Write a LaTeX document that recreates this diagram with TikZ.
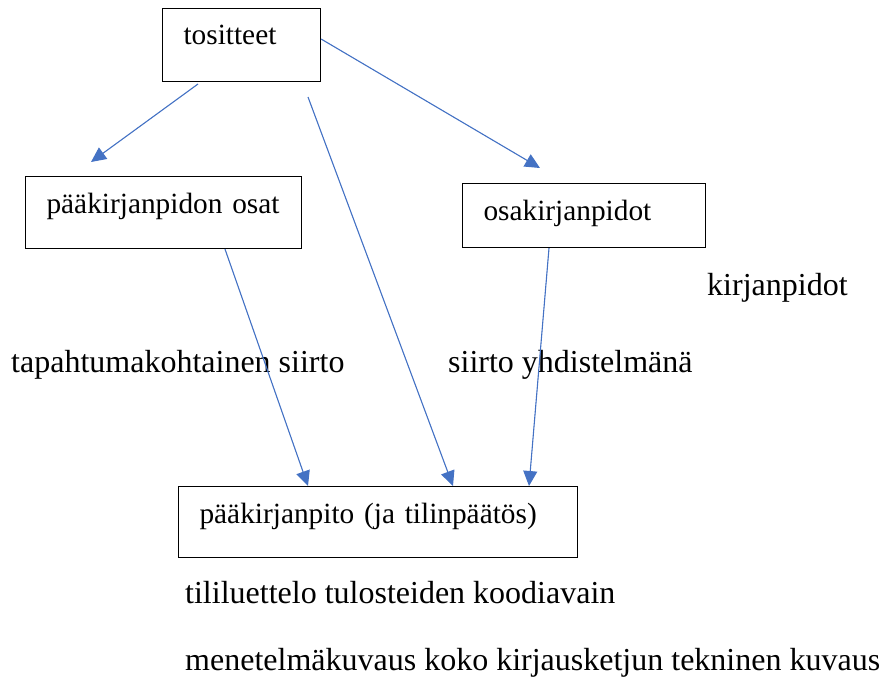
\documentclass[tikz,border=0pt]{standalone}
\usepackage{fontspec}
\setmainfont{Liberation Serif}
\usepackage{xcolor}
\usetikzlibrary{arrows.meta}
\usetikzlibrary{calc}
\definecolor{linkblue}{HTML}{4472C4}

\begin{document}
\begin{tikzpicture}[x=1pt, y=-1pt, >={Triangle[length=15pt,width=14pt]},
    every node/.style={font=\fontsize{32}{38}\selectfont, inner sep=0pt},
    box/.style n args={3}{draw, line width=1.1pt, anchor=north west, align=left,
        font=\fontsize{29.33}{35}\selectfont,
        inner xsep=21pt, text width=#1, text height=#2, text depth=#3},
    note/.style={anchor=base west},
    link/.style={->, draw=linkblue, fill=linkblue, line width=1.1pt}]
\useasboundingbox (0,0) rectangle (881,686);

% laatikot
\node[box={116pt}{36pt}{37pt}] (tos) at (162,8) {tositteet};
\node[box={234pt}{37pt}{35pt}] (osat) at (25,176) {pääkirjanpidon osat};
\node[box={201pt}{37pt}{27pt}] (osak) at (462,183) {osakirjanpidot};
\node[box={357pt}{37pt}{34pt}] (pk) at (178,486) {pääkirjanpito (ja tilinpäätös)};

% vapaat tekstit
\node[note] (kirj) at (707,295) {kirjanpidot};
\node[note] (tapsiirto) at (11,372) {tapahtumakohtainen siirto};
\node[note] (yhdsiirto) at (448,372) {siirto yhdistelmänä};
\node[note] (tililuet) at (185,603) {tililuettelo tulosteiden koodiavain};
\node[note] (menkuv) at (185,670) {menetelmäkuvaus koko kirjausketjun tekninen kuvaus};

% nuolten vapaat päät
\coordinate (tosA) at (198,84);
\coordinate (tosB) at (308,97);
\coordinate (osatIn) at (91,162);
\coordinate (osakIn) at (540,168);

\draw[link] (tosA) -- (osatIn);
\draw[link] (tos.east |- 0,39) -- (osakIn);
\draw[link] (tosB) -- ($(pk.north west)+(275,0)$);
\draw[link] ($(osat.south west)+(200,0)$) -- ($(pk.north west)+(130,0)$);
\draw[link] ($(osak.south west)+(87,0)$) -- ($(pk.north west)+(351,0)$);
\end{tikzpicture}
\end{document}
